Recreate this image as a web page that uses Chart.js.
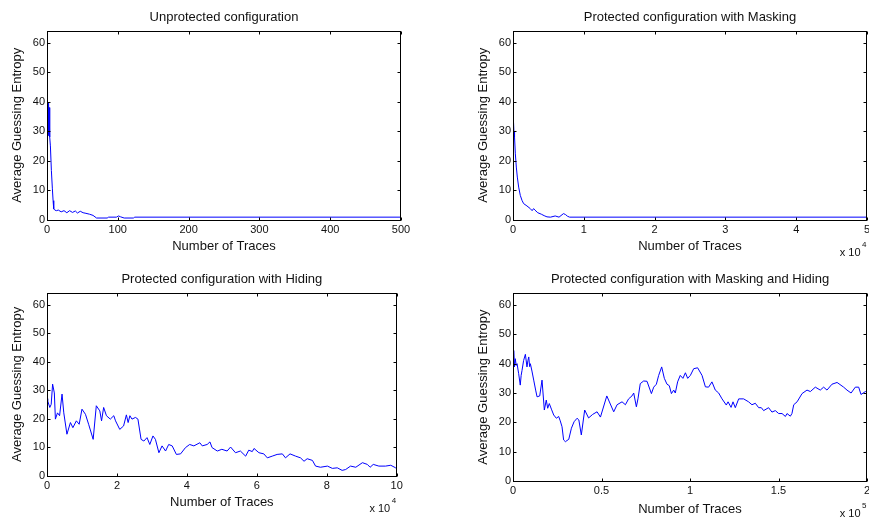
<!DOCTYPE html>
<html>
<head>
<meta charset="utf-8">
<script src="https://cdn.jsdelivr.net/npm/chart.js@4.4.1/dist/chart.umd.min.js"></script>
<style>
  html, body { margin: 0; padding: 0; background: #fff; overflow: hidden; width: 869px; height: 521px; }
  canvas { position: absolute; }
</style>
</head>
<body>
<canvas id="c1" width="434" height="260" style="left:0;top:0"></canvas>
<canvas id="c2" width="434" height="260" style="left:466px;top:0"></canvas>
<canvas id="c3" width="434" height="260" style="left:0;top:260px"></canvas>
<canvas id="c4" width="434" height="260" style="left:466px;top:260px"></canvas>
<script>
// shared y axis
const yTicks = [0, 10, 20, 30, 40, 50, 60];
const yMax = 64;

// unprotected: traces
const unprotX = [0, 0.5, 1, 1.5, 2, 2.5, 3, 3.8, 4.8, 6.2, 7.6, 8.6, 9.5, 11, 13.3, 16, 20, 24, 28, 32, 36, 40, 43, 47, 51, 55, 60, 65, 70, 85, 87, 98, 101, 104, 109, 122, 124, 500];
const unprotY = [36, 29, 40, 28.5, 39.8, 29, 38, 28, 25, 16.6, 10.4, 6.4, 3.6, 3.2, 3, 3.2, 2.6, 3, 2.3, 3, 2.4, 2.9, 2.2, 2.8, 2.3, 2.1, 1.8, 1.4, 0.5, 0.5, 0.8, 0.8, 1.2, 0.9, 0.5, 0.5, 0.8, 0.8];
const unprotTicks = [0, 100, 200, 300, 400, 500];

// masking: traces x 10^4
const maskX = [0, 0.005, 0.01, 0.015, 0.02, 0.0235, 0.033, 0.047, 0.061, 0.08, 0.103, 0.127, 0.15, 0.197, 0.244, 0.27, 0.291, 0.31, 0.35, 0.4, 0.44, 0.48, 0.53, 0.596, 0.65, 0.713, 0.74, 0.77, 0.8, 5];
const maskY = [33, 28, 33, 28.5, 30, 28, 22.3, 17.8, 14.4, 11, 8.2, 6.5, 5.4, 4.6, 3.7, 3.0, 3.7, 3.2, 2.3, 1.8, 1.3, 0.9, 0.8, 1.2, 0.8, 2.0, 1.7, 1.1, 0.8, 0.8];
const maskTicks = [0, 1, 2, 3, 4, 5];

// hiding: traces x 10^4
const hideX = [0, 0.02, 0.08, 0.12, 0.16, 0.21, 0.24, 0.3, 0.36, 0.43, 0.48, 0.57, 0.67, 0.74, 0.84, 0.92, 1.0, 1.1, 1.19, 1.32, 1.41, 1.51, 1.56, 1.62, 1.7, 1.81, 1.91, 1.96, 2.08, 2.19, 2.27, 2.32, 2.37, 2.43, 2.53, 2.6, 2.69, 2.77, 2.86, 2.94, 3.03, 3.1, 3.2, 3.29, 3.39, 3.48, 3.58, 3.7, 3.82, 3.96, 4.08, 4.2, 4.37, 4.44, 4.58, 4.66, 4.72, 4.87, 5.0, 5.15, 5.25, 5.39, 5.53, 5.68, 5.77, 5.87, 5.92, 6.06, 6.2, 6.3, 6.44, 6.58, 6.73, 6.82, 6.95, 7.11, 7.25, 7.35, 7.44, 7.59, 7.68, 7.82, 8.02, 8.16, 8.3, 8.44, 8.54, 8.68, 8.83, 9.02, 9.16, 9.24, 9.33, 9.49, 9.68, 9.83, 9.97, 10];
const hideY = [27, 26.2, 23.9, 25, 32.1, 29, 19.8, 22, 21, 28.6, 22, 14.5, 18.6, 16.8, 19.2, 18, 23.3, 21.5, 18, 12.7, 24.5, 22.7, 19.2, 23.9, 21, 19.8, 21, 19.2, 16.2, 17.4, 21.3, 18.6, 21, 19.8, 20.4, 19.8, 12.7, 12.1, 13.3, 10.9, 13.9, 12.7, 8, 10.4, 8.6, 10.9, 10.4, 7.4, 7.6, 9.8, 10.9, 10.4, 11.5, 10.4, 10.9, 11.8, 9.8, 8.6, 9.2, 8.6, 10, 8, 8.6, 6.8, 8.9, 8.4, 9.5, 8, 7.6, 6.2, 6.8, 7.4, 7.6, 6.2, 7.6, 6.8, 6.2, 5, 5.9, 5.3, 3.3, 2.9, 3.3, 2.5, 2.7, 1.8, 2.1, 3.3, 2.9, 4.5, 3.9, 2.9, 3.9, 3.3, 3.3, 3.6, 2.7, 3.0];
const hideTicks = [0, 2, 4, 6, 8, 10];

// masking + hiding: traces x 10^5
const bothX = [0, 0.004, 0.008, 0.013, 0.018, 0.023, 0.032, 0.041, 0.046, 0.051, 0.06, 0.07, 0.079, 0.084, 0.089, 0.094, 0.098, 0.107, 0.117, 0.128, 0.136, 0.151, 0.164, 0.177, 0.188, 0.196, 0.205, 0.217, 0.23, 0.245, 0.258, 0.267, 0.277, 0.286, 0.296, 0.305, 0.315, 0.33, 0.345, 0.362, 0.372, 0.386, 0.405, 0.427, 0.45, 0.475, 0.494, 0.53, 0.569, 0.588, 0.616, 0.635, 0.653, 0.672, 0.682, 0.697, 0.706, 0.719, 0.738, 0.757, 0.782, 0.795, 0.81, 0.823, 0.84, 0.855, 0.87, 0.883, 0.895, 0.908, 0.917, 0.93, 0.945, 0.96, 0.974, 0.987, 1.002, 1.021, 1.043, 1.068, 1.087, 1.105, 1.124, 1.143, 1.162, 1.181, 1.205, 1.215, 1.232, 1.243, 1.256, 1.275, 1.303, 1.331, 1.35, 1.369, 1.388, 1.403, 1.416, 1.444, 1.463, 1.482, 1.501, 1.52, 1.539, 1.548, 1.567, 1.576, 1.586, 1.605, 1.633, 1.661, 1.68, 1.708, 1.736, 1.755, 1.774, 1.802, 1.831, 1.868, 1.887, 1.91, 1.934, 1.953, 1.966, 1.991, 2.0];
const bothY = [40, 44.5, 38.9, 41.7, 39.4, 40, 36.6, 32.7, 36, 37.7, 41.1, 43.2, 38.9, 41, 42.3, 39, 40, 37.5, 34.4, 31, 28.7, 29, 34.4, 24.2, 27.6, 24.8, 26.4, 24.5, 22.5, 21.4, 22, 20.5, 18.5, 14.0, 13.4, 13.8, 14.2, 18, 20.2, 21.4, 20.8, 15.7, 24.2, 21.5, 22.7, 23.6, 21.8, 29, 23.6, 26, 27, 26, 28, 29, 30, 25.3, 28, 33.2, 34.1, 34, 29.8, 32, 33, 36, 38.9, 35, 33, 32.5, 29.8, 31, 30, 33.8, 36, 35, 36.9, 35, 36, 38.3, 38.6, 36, 32.1, 32, 33.8, 31, 30, 28, 25.9, 27, 25.1, 27, 25, 28, 28, 27, 26, 26.5, 25, 25, 24, 25, 23.5, 24, 23, 23, 22, 23, 22.1, 23, 26, 27, 29.8, 31, 30.5, 32, 31, 32, 31, 33, 33.6, 32, 31, 30, 32, 32, 29.5, 30.5, 30.5];
const bothTicks = [0, 0.5, 1, 1.5, 2];

const FONT = "'Liberation Sans', Arial, sans-serif";
const TEXT = "#111";

// box round the plot, inward ticks on all four sides, title over the plot
// area, and the "x 10^n" note
const matlabAxes = {
  id: "matlabAxes",
  afterDraw(chart, args, opts) {
    const { ctx, chartArea: a, scales } = chart;
    const L = Math.round(a.left) + 0.5, R = Math.round(a.right) - 0.5;
    const T = Math.round(a.top) + 0.5, B = Math.round(a.bottom) + 0.5;
    ctx.save();
    ctx.strokeStyle = "#000";
    ctx.lineWidth = 1;
    ctx.strokeRect(L, T, R - L, B - T);
    ctx.beginPath();
    scales.x.ticks.forEach((t) => {
      const px = Math.round(scales.x.getPixelForValue(t.value)) + 0.5;
      ctx.moveTo(px, B); ctx.lineTo(px, B - 3);
      ctx.moveTo(px, T); ctx.lineTo(px, T + 3);
    });
    scales.y.ticks.forEach((t) => {
      const py = Math.round(scales.y.getPixelForValue(t.value)) + 0.5;
      ctx.moveTo(L, py); ctx.lineTo(L + 3, py);
      ctx.moveTo(R, py); ctx.lineTo(R - 3, py);
    });
    ctx.stroke();

    ctx.fillStyle = TEXT;
    ctx.textBaseline = "middle";
    ctx.textAlign = "center";
    ctx.font = "13px " + FONT;
    ctx.fillText(opts.title, (a.left + a.right) / 2, opts.titleY);

    if (opts.exponent) {
      ctx.font = "11px " + FONT;
      ctx.textAlign = "right";
      ctx.fillText("x 10", a.right - 6.5, a.bottom + 33);
      ctx.font = "8px " + FONT;
      ctx.textAlign = "left";
      ctx.fillText(opts.exponent, a.right - 5, a.bottom + 25);
    }
    ctx.restore();
  },
};

function makePlot(id, xs, ys, cfg) {
  const points = xs.map((x, i) => ({ x: x, y: ys[i] }));
  return new Chart(document.getElementById(id), {
    type: "line",
    data: {
      datasets: [
        {
          data: points,
          borderColor: "#0000ff",
          borderWidth: 1,
          pointRadius: 0,
          tension: 0,
          fill: false,
        },
      ],
    },
    options: {
      responsive: false,
      animation: false,
      events: [],
      layout: { padding: { left: 0, right: cfg.padRight, top: cfg.top, bottom: 0 } },
      plugins: {
        legend: { display: false },
        tooltip: { enabled: false },
        title: { display: false },
        matlabAxes: { title: cfg.title, titleY: cfg.titleY, exponent: cfg.exponent },
      },
      scales: {
        x: {
          type: "linear",
          min: 0,
          max: cfg.xTicks[cfg.xTicks.length - 1],
          afterBuildTicks: (scale) => {
            scale.ticks = cfg.xTicks.map((v) => ({ value: v }));
          },
          afterFit: (scale) => {
            scale.height = cfg.xAxisHeight;
          },
          grid: { display: false, drawTicks: false },
          border: { display: false },
          ticks: {
            padding: 3.5,
            maxRotation: 0,
            autoSkip: false,
            color: TEXT,
            font: { family: FONT, size: 11, lineHeight: 1.2 },
            callback: (v) => String(v),
          },
          title: {
            display: true,
            text: "Number of Traces",
            color: TEXT,
            font: { family: FONT, size: 13, lineHeight: 1.2 },
            padding: { top: 0, bottom: cfg.xTitleBottom },
          },
        },
        y: {
          min: 0,
          max: yMax,
          afterBuildTicks: (scale) => {
            scale.ticks = yTicks.map((v) => ({ value: v }));
          },
          afterFit: (scale) => {
            scale.width = 47;
          },
          grid: { display: false, drawTicks: false },
          border: { display: false },
          ticks: {
            padding: 2,
            color: TEXT,
            font: { family: FONT, size: 11, lineHeight: 1.2 },
            callback: (v) => String(v),
          },
          title: {
            display: true,
            text: "Average Guessing Entropy",
            color: TEXT,
            font: { family: FONT, size: 13, lineHeight: 1.2 },
            padding: { top: 9.2, bottom: 0 },
          },
        },
      },
    },
    plugins: [matlabAxes],
  });
}

makePlot("c1", unprotX, unprotY, {
  title: "Unprotected configuration",
  xTicks: unprotTicks,
  padRight: 33,
  top: 31,
  titleY: 17,
  xAxisHeight: 40.5,
  xTitleBottom: 5.7,
});
makePlot("c2", maskX, maskY, {
  title: "Protected configuration with Masking",
  xTicks: maskTicks,
  padRight: 33,
  top: 31,
  titleY: 17,
  xAxisHeight: 40.5,
  xTitleBottom: 5.7,
  exponent: "4",
});
makePlot("c3", hideX, hideY, {
  title: "Protected configuration with Hiding",
  xTicks: hideTicks,
  padRight: 37.3,
  top: 33.3,
  titleY: 19.5,
  xAxisHeight: 44.5,
  xTitleBottom: 10.2,
  exponent: "4",
});
makePlot("c4", bothX, bothY, {
  title: "Protected configuration with Masking and Hiding",
  xTicks: bothTicks,
  padRight: 33,
  top: 33.3,
  titleY: 19,
  xAxisHeight: 39,
  xTitleBottom: 3.2,
  exponent: "5",
});
</script>
</body>
</html>
